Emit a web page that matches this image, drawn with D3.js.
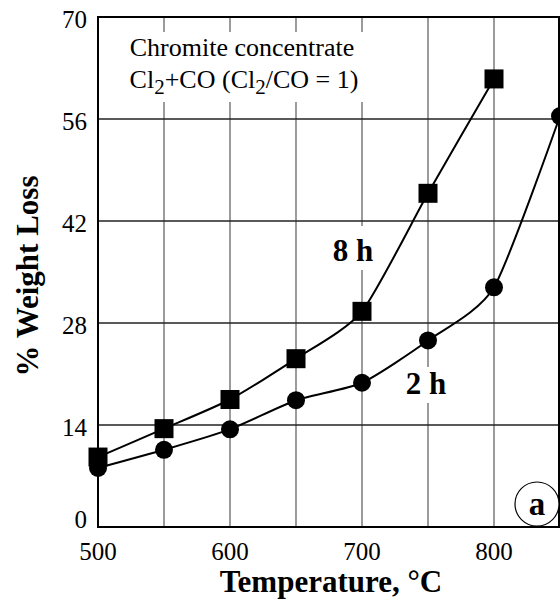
<!DOCTYPE html>
<html><head><meta charset="utf-8">
<script src="https://cdn.jsdelivr.net/npm/d3@7/dist/d3.min.js"></script>
<style>body{margin:0;background:#fff}</style>
</head><body>
<svg id="c" width="560" height="608"></svg>
<script>
const temps = [500, 550, 600, 650, 700, 750, 800, 850];
const loss8h = [9.6, 13.5, 17.5, 23.1, 29.6, 45.8, 61.5];
const loss2h = [8.1, 10.6, 13.4, 17.4, 19.8, 25.6, 32.9, 56.4];
const xTicks = [500, 600, 700, 800];
const xGrid = [550, 600, 650, 700, 750, 800];
const yTicks = [0, 14, 28, 42, 56, 70];
const yGrid = [14, 28, 42, 56];

const svg = d3.select("#c");
const L = 98, R = 560, T = 17, B = 527;
const x = d3.scaleLinear().domain([500, 850]).range([L, R]);
const y = d3.scaleLinear().domain([0, 70]).range([B, T]);
const serif = "'Liberation Serif','Times New Roman',serif";

// gridlines
svg.append("g").selectAll("line").data(xGrid).join("line")
  .attr("x1", d => x(d)).attr("x2", d => x(d)).attr("y1", T).attr("y2", B)
  .attr("stroke", "#666").attr("stroke-width", 1.3);
svg.append("g").selectAll("line").data(yGrid).join("line")
  .attr("x1", L).attr("x2", R).attr("y1", d => y(d)).attr("y2", d => y(d))
  .attr("stroke", "#222").attr("stroke-width", 1.3);

// white label backgrounds
svg.append("rect").attr("x", 112).attr("y", 32).attr("width", 262).attr("height", 70).attr("fill", "#fff");
svg.append("rect").attr("x", 328).attr("y", 226).attr("width", 50).attr("height", 44).attr("fill", "#fff");
svg.append("rect").attr("x", 401).attr("y", 367).attr("width", 50).attr("height", 36).attr("fill", "#fff");

// curves
const line = d3.line().x(d => x(d[0])).y(d => y(d[1])).curve(d3.curveCardinal.tension(0.35));
const s8 = loss8h.map((v, i) => [temps[i], v]);
const s2 = loss2h.map((v, i) => [temps[i], v]);
svg.append("path").attr("d", line(s8)).attr("fill", "none").attr("stroke", "#000").attr("stroke-width", 2);
svg.append("path").attr("d", line(s2)).attr("fill", "none").attr("stroke", "#000").attr("stroke-width", 2);

// markers
svg.append("g").selectAll("circle").data(s2).join("circle")
  .attr("cx", d => x(d[0])).attr("cy", d => y(d[1])).attr("r", 9).attr("fill", "#000");
svg.append("g").selectAll("rect").data(s8).join("rect")
  .attr("x", d => x(d[0]) - 9.5).attr("y", d => y(d[1]) - 9.5)
  .attr("width", 19).attr("height", 19).attr("fill", "#000");

// frame
svg.append("rect").attr("x", L).attr("y", T).attr("width", R - L - 1).attr("height", B - T)
  .attr("fill", "none").attr("stroke", "#000").attr("stroke-width", 2);

// tick labels
svg.append("g").selectAll("text").data(xTicks).join("text")
  .attr("x", d => x(d)).attr("y", 560).attr("text-anchor", "middle")
  .attr("font-family", serif).attr("font-size", 25).text(d => d);
svg.append("g").selectAll("text").data(yTicks).join("text")
  .attr("x", 87).attr("y", d => d === 0 ? y(d) + 1 : y(d) + 11).attr("text-anchor", "end")
  .attr("font-family", serif).attr("font-size", 25).text(d => d);

// axis titles
svg.append("text").attr("x", 331).attr("y", 592).attr("text-anchor", "middle")
  .attr("font-family", serif).attr("font-weight", "bold").attr("font-size", 31)
  .text("Temperature, °C");
svg.append("text").attr("transform", "translate(38,276) rotate(-90)").attr("text-anchor", "middle")
  .attr("font-family", serif).attr("font-weight", "bold").attr("font-size", 31)
  .text("% Weight Loss");

// annotation box
svg.append("text").attr("x", 242).attr("y", 56).attr("text-anchor", "middle")
  .attr("font-family", serif).attr("font-size", 26).text("Chromite concentrate");
const t2 = svg.append("text").attr("x", 244).attr("y", 88).attr("text-anchor", "middle")
  .attr("font-family", serif).attr("font-size", 26);
t2.append("tspan").text("Cl");
t2.append("tspan").attr("dy", 6).attr("font-size", 21).text("2");
t2.append("tspan").attr("dy", -6).text("+CO (Cl");
t2.append("tspan").attr("dy", 6).attr("font-size", 21).text("2");
t2.append("tspan").attr("dy", -6).text("/CO = 1)");

// series labels
svg.append("text").attr("x", 353).attr("y", 261).attr("text-anchor", "middle")
  .attr("font-family", serif).attr("font-weight", "bold").attr("font-size", 31).text("8 h");
svg.append("text").attr("x", 426).attr("y", 394).attr("text-anchor", "middle")
  .attr("font-family", serif).attr("font-weight", "bold").attr("font-size", 31).text("2 h");

// panel label
svg.append("circle").attr("cx", 537).attr("cy", 504).attr("r", 22)
  .attr("fill", "#fff").attr("stroke", "#000").attr("stroke-width", 1.2);
svg.append("text").attr("x", 537).attr("y", 515).attr("text-anchor", "middle")
  .attr("font-family", serif).attr("font-weight", "bold").attr("font-size", 33).text("a");
</script>
</body></html>
